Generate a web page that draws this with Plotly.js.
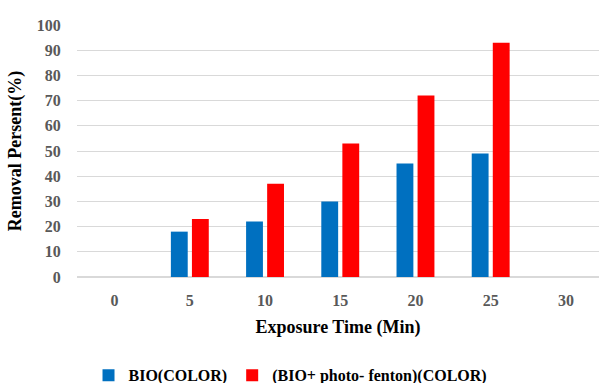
<!DOCTYPE html>
<html>
<head>
<meta charset="utf-8">
<script src="https://cdn.plot.ly/plotly-3.0.1.min.js"></script>
<style>
  html, body { margin: 0; padding: 0; background: #ffffff; overflow: hidden; }
  #chart { width: 599px; height: 383px; }
</style>
</head>
<body>
<div id="chart"></div>
<script>
// Exposure times (min) and removal percentages for each treatment
const exposureTimes = ['0', '5', '10', '15', '20', '25', '30'];
const bioColor = [null, 18, 22, 30, 45, 49, null];
const bioPhotoFentonColor = [null, 23, 37, 53, 72, 93, null];

const serif = 'Liberation Serif, Times New Roman, serif';

const traces = [
  {
    type: 'bar',
    name: 'BIO(COLOR)',
    x: exposureTimes,
    y: bioColor,
    marker: { color: '#0070C0' },
    hoverinfo: 'x+y'
  },
  {
    type: 'bar',
    name: '(BIO+ photo- fenton)(COLOR)',
    x: exposureTimes,
    y: bioPhotoFentonColor,
    marker: { color: '#FF0000' },
    hoverinfo: 'x+y'
  }
];

const layout = {
  width: 599,
  height: 383,
  margin: { l: 77, r: 0, t: 25, b: 106 },
  paper_bgcolor: '#ffffff',
  plot_bgcolor: '#ffffff',
  barmode: 'group',
  bargap: 0.44,
  bargroupgap: 0.2,
  font: { family: serif, color: '#000000' },
  xaxis: {
    type: 'category',
    range: [-0.5, 6.44],
    showgrid: false,
    showline: false,
    zeroline: false,
    ticks: 'outside',
    ticklen: 9,
    tickcolor: 'rgba(0,0,0,0)',
    tickfont: { family: serif, size: 16, weight: 'bold', color: '#595959' },
    title: {
      text: 'Exposure Time (Min)',
      font: { family: serif, size: 18, weight: 'bold', color: '#000000' },
      standoff: 12
    }
  },
  yaxis: {
    range: [0, 100],
    dtick: 10,
    showgrid: true,
    gridcolor: '#d9d9d9',
    gridwidth: 1,
    zeroline: true,
    zerolinecolor: '#d9d9d9',
    zerolinewidth: 1.5,
    showline: false,
    ticks: 'outside',
    ticklen: 12,
    tickcolor: 'rgba(0,0,0,0)',
    tickfont: { family: serif, size: 16, weight: 'bold', color: '#595959' },
    title: {
      text: 'Removal Persent(%)',
      font: { family: serif, size: 18, weight: 'bold', color: '#000000' },
      standoff: 10
    }
  },
  showlegend: true,
  legend: {
    orientation: 'h',
    xref: 'container',
    yref: 'container',
    x: 0.485,
    xanchor: 'center',
    y: 0.02,
    yanchor: 'middle',
    font: { family: serif, size: 16, weight: 'bold', color: '#000000' },
    itemwidth: 30,
    traceorder: 'normal'
  }
};

Plotly.newPlot('chart', traces, layout, { displayModeBar: false, staticPlot: true });
</script>
</body>
</html>
